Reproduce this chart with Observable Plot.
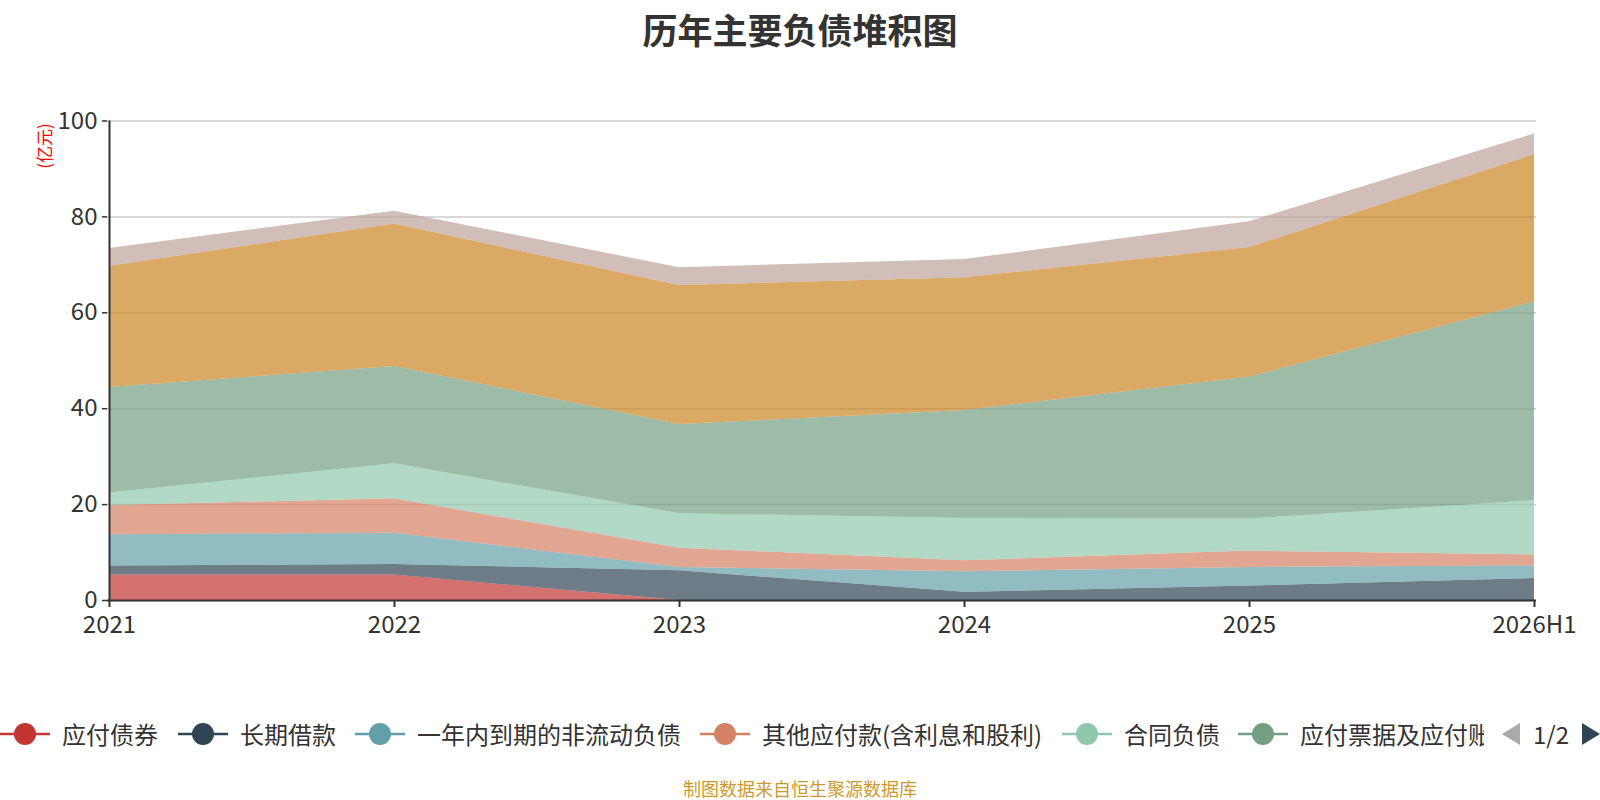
<!DOCTYPE html>
<html>
<head>
<meta charset="utf-8">
<script src="https://cdn.jsdelivr.net/npm/d3@7"></script>
<script src="https://cdn.jsdelivr.net/npm/@observablehq/plot@0.6"></script>
<style>
  html, body { margin: 0; padding: 0; background: #fff; }
  #wrap { position: relative; width: 1600px; height: 800px; overflow: hidden;
          font-family: "Microsoft YaHei", "Noto Sans CJK SC", "Noto Sans", sans-serif; color: #333; }
  #title { position: absolute; left: 0; width: 1600px; top: 11px; text-align: center;
           font-size: 35px; line-height: 36px; font-weight: bold; color: #333; }
  #chart { position: absolute; left: 0; top: 0; }
  #unit { position: absolute; left: 44px; top: 146px; transform: translate(-50%, -50%) rotate(-90deg);
          color: #ff0000; font-size: 17px; line-height: 18px; white-space: nowrap; }
  #legend { position: absolute; left: 0; top: 712px; width: 1484px; height: 44px; overflow: hidden; }
  .li { position: absolute; top: 0; height: 44px; white-space: nowrap; }
  .li svg { position: absolute; left: 0; top: 0; }
  .li span { position: absolute; left: 62px; top: 0; font-size: 24px; line-height: 44px; color: #333; }
  #pager { position: absolute; left: 1490px; top: 712px; width: 110px; height: 44px; }
  #pager svg { position: absolute; left: 0; top: 0; }
  #pager span { position: absolute; left: 43px; top: 0; font-size: 24px; line-height: 44px; color: #333; }
  #caption { position: absolute; left: 0; width: 1600px; top: 778px; text-align: center;
             font-size: 18px; line-height: 20px; color: #cc9a2e; }
</style>
</head>
<body>
<div id="wrap">
  <div id="title">历年主要负债堆积图</div>
  <div id="chart"></div>
  <div id="unit">(亿元)</div>
  <div id="legend"></div>
  <div id="pager">
    <svg width="110" height="44">
      <polygon points="12,22 30,11 30,33" fill="#aaaaaa"></polygon>
      <polygon points="92,11 110,22 92,33" fill="#2f4554"></polygon>
    </svg>
    <span>1/2</span>
  </div>
  <div id="caption">制图数据来自恒生聚源数据库</div>
</div>
<script>
// ---- Data (亿元) ----
const years = ["2021", "2022", "2023", "2024", "2025", "2026H1"];
const seriesNames = ["应付债券", "长期借款", "一年内到期的非流动负债", "其他应付款(含利息和股利)",
                     "合同负债", "应付票据及应付账款", "短期借款", "应付职工薪酬"];
const bondsPayable      = [5.3, 5.3, 0, 0, 0, 0];
const longTermLoans     = [1.9, 2.2, 6.2, 1.7, 3.0, 4.6];
const currentNonCurrent = [6.5, 6.5, 0.7, 4.3, 3.9, 2.6];
const otherPayables     = [6.1, 7.2, 4.0, 2.3, 3.4, 2.3];
const contractLiab      = [2.6, 7.3, 7.2, 8.8, 6.7, 11.3];
const notesAccounts     = [22.0, 20.3, 18.6, 22.5, 29.6, 41.5];
const shortTermLoans    = [25.3, 29.7, 29.0, 27.7, 27.0, 30.7];
const staffPayables     = [3.7, 2.7, 3.7, 3.8, 5.4, 4.3];
const yTicks = [0, 20, 40, 60, 80, 100];
const colors = ["#c23531", "#2f4554", "#61a0a8", "#d48265", "#91c7ae", "#749f83", "#ca8622", "#bda29a"];

const seriesValues = [bondsPayable, longTermLoans, currentNonCurrent, otherPayables,
                      contractLiab, notesAccounts, shortTermLoans, staffPayables];
const data = [];
seriesNames.forEach((name, i) => {
  years.forEach((yr, j) => data.push({ series: name, year: yr, value: seriesValues[i][j] }));
});

const font = '"Microsoft YaHei", "Noto Sans CJK SC", "Noto Sans", sans-serif';

const chart = Plot.plot({
  width: 1600,
  height: 660,
  marginTop: 120.5,
  marginBottom: 60,
  marginLeft: 107,
  marginRight: 64,
  style: { fontFamily: font, fontSize: "24px", color: "#333", background: "transparent" },
  x: { type: "point", domain: years, padding: 0, label: null },
  y: { domain: [0, 100], label: null },
  color: { domain: seriesNames, range: colors },
  marks: [
    Plot.gridY(yTicks, { stroke: "#cccccc", strokeOpacity: 1, strokeWidth: 1.5 }),
    Plot.areaY(data, { x: "year", y: "value", z: "series", fill: "series", fillOpacity: 0.7, order: seriesNames }),
    Plot.axisY({ ticks: yTicks, tickSize: 5, tickPadding: 5, fontSize: 24, label: null, stroke: "#333", strokeWidth: 1.5 }),
    Plot.axisX({ tickSize: 7, tickPadding: 8, fontSize: 24, label: null, stroke: "#333", strokeWidth: 2 }),
    Plot.ruleY([0], { stroke: "#333", strokeWidth: 2 }),
    Plot.ruleX([years[0]], { stroke: "#333", strokeWidth: 2 })
  ]
});
document.getElementById("chart").appendChild(chart);

// ---- Legend (first page of a scrolling legend) ----
const legendX = [0, 178, 355, 700, 1062, 1238];
const legend = document.getElementById("legend");
legendX.forEach((lx, i) => {
  const item = document.createElement("div");
  item.className = "li";
  item.style.left = lx + "px";
  item.innerHTML =
    `<svg width="50" height="44"><line x1="0" x2="50" y1="22" y2="22" stroke="${colors[i]}" stroke-width="2.5"></line>` +
    `<circle cx="25" cy="22" r="11" fill="${colors[i]}"></circle></svg><span></span>`;
  item.querySelector("span").textContent = seriesNames[i];
  legend.appendChild(item);
});
</script>
</body>
</html>
